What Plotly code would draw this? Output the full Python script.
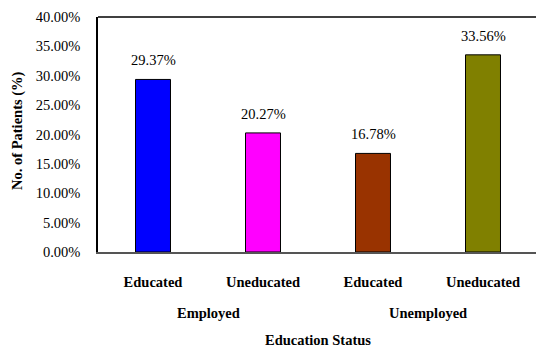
import plotly.graph_objects as go

# Patient share by education status within each employment group
groups = ["Employed", "Employed", "Unemployed", "Unemployed"]
education = ["Educated", "Uneducated", "Educated", "Uneducated"]
share = [0.2937, 0.2027, 0.1678, 0.3356]
bar_colors = ["#0000FF", "#FF00FF", "#993300", "#808000"]
group_names = ["Employed", "Unemployed"]

FONT = "Liberation Serif, Times New Roman, serif"
W, H = 536, 349
ML, MT, MB, MR = 98, 17, 97, 0
plot_w = W - ML - MR
slot = 110.0  # pixels per category
x_pos = list(range(len(education)))

fig = go.Figure()
fig.add_trace(go.Bar(
    x=x_pos,
    y=share,
    width=0.318,
    marker=dict(color=bar_colors, line=dict(color="black", width=1)),
    hoverinfo="skip",
))

# value labels above each bar
for xi, v in zip(x_pos, share):
    fig.add_annotation(
        x=xi, y=v, xref="x", yref="y",
        text=f"{v*100:.2f}%", showarrow=False,
        xanchor="center", yanchor="bottom", yshift=9,
        font=dict(family=FONT, size=14.5, color="black"),
    )

# employment group labels centred under their pair of bars
x0 = -0.5
x1 = x0 + plot_w / slot
for gi, g in enumerate(group_names):
    center = (2 * gi + 0.5 - x0) / (x1 - x0)
    fig.add_annotation(
        x=center, y=0, xref="paper", yref="paper",
        text=f"<b>{g}</b>", showarrow=False,
        xanchor="center", yanchor="middle", yshift=-(313 - 252),
        font=dict(family=FONT, size=14.5, color="black"),
    )

# axis titles
fig.add_annotation(
    x=(318 - ML) / plot_w, y=0, xref="paper", yref="paper",
    text="<b>Education Status</b>", showarrow=False,
    xanchor="center", yanchor="middle", yshift=-(340 - 252),
    font=dict(family=FONT, size=14.5, color="black"),
)
fig.add_annotation(
    x=(17 - ML) / plot_w, y=(252 - 131) / (252 - 17), xref="paper", yref="paper",
    text="<b>No. of Patients (%)</b>", showarrow=False, textangle=-90,
    xanchor="center", yanchor="middle",
    font=dict(family=FONT, size=14.5, color="black"),
)

# top border of the plot frame
fig.add_shape(type="line", xref="paper", yref="paper", x0=0, x1=1, y0=1, y1=1,
              line=dict(color="black", width=1.5))

fig.update_layout(
    width=W, height=H,
    margin=dict(l=ML, r=MR, t=MT, b=MB),
    paper_bgcolor="white", plot_bgcolor="white",
    showlegend=False,
    font=dict(family=FONT, size=14.5, color="black"),
    xaxis=dict(
        range=[x0, x1],
        tickmode="array", tickvals=x_pos,
        ticktext=[f"<b>{e}</b>" for e in education],
        ticks="outside", ticklen=16, tickcolor="rgba(0,0,0,0)",
        showline=True, linecolor="#555555", linewidth=1.5,
        showgrid=False, zeroline=False, fixedrange=True,
    ),
    yaxis=dict(
        range=[0, 0.40], dtick=0.05, tickformat=".2%",
        ticks="outside", ticklen=13, tickcolor="rgba(0,0,0,0)",
        showline=True, linecolor="black", linewidth=1.5,
        showgrid=False, zeroline=False, fixedrange=True,
    ),
)

fig.write_html("out.html")
